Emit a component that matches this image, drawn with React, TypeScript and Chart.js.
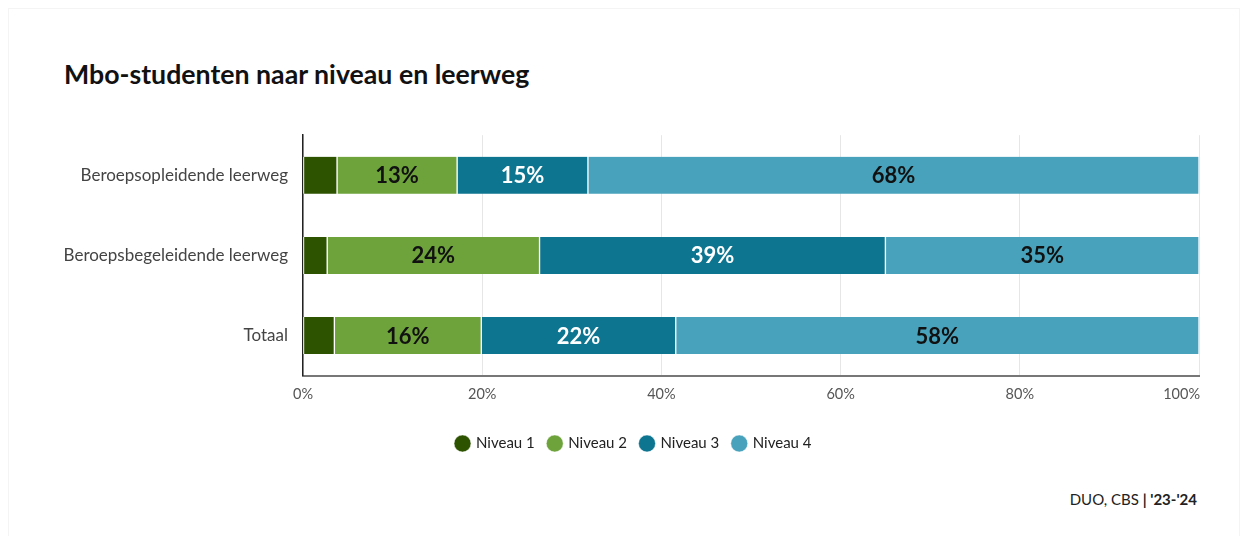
import React, { useEffect, useRef } from "react";
import { Chart, registerables } from "chart.js";

Chart.register(...registerables);

const categories = ["Beroepsopleidende leerweg", "Beroepsbegeleidende leerweg", "Totaal"];
const seriesNames = ["Niveau 1", "Niveau 2", "Niveau 3", "Niveau 4"];
const niveau1 = [3.8, 2.7, 3.5];
const niveau2 = [13.4, 23.7, 16.4];
const niveau3 = [14.6, 38.6, 21.7];
const niveau4 = [68.2, 35.0, 58.4];
const colors = ["#2d5300", "#6ea33c", "#0e7591", "#48a2bc"];
const labelColors = [null, "#111111", "#ffffff", "#111111"];
const xTicks = [0, 20, 40, 60, 80, 100];

const FONT = "Lato, 'Noto Sans', sans-serif";

const barLabelPlugin = {
  id: "barLabels",
  beforeDraw(chart: any) {
    const lg = chart.legend;
    if (lg && !lg._shifted) {
      lg.left += 10;
      lg.right += 10;
      lg._shifted = true;
    }
  },
  afterDatasetsDraw(chart: any) {
    const ctx = chart.ctx;
    ctx.save();
    ctx.font = `bold 22px ${FONT}`;
    ctx.textAlign = "center";
    ctx.textBaseline = "middle";
    chart.data.datasets.forEach((ds: any, di: number) => {
      const col = labelColors[di];
      if (!col) return;
      const meta = chart.getDatasetMeta(di);
      meta.data.forEach((el: any, i: number) => {
        const v = ds.data[i];
        const cx = (el.x + el.base) / 2;
        ctx.fillStyle = col;
        ctx.fillText(Math.round(v) + "%", cx, el.y + 1);
      });
    });
    ctx.restore();
  },
  afterDraw(chart: any) {
    const ctx = chart.ctx;
    const xs = chart.scales.x;
    ctx.save();
    ctx.font = `14.5px ${FONT}`;
    ctx.fillStyle = "#555555";
    ctx.textAlign = "right";
    ctx.textBaseline = "middle";
    const ly = chart.chartArea.bottom + 10 + 9;
    ctx.fillText("100%", xs.right + 1, ly);
    ctx.restore();
  },
};

export default function App() {
  const ref = useRef<HTMLCanvasElement | null>(null);
  useEffect(() => {
    if (!ref.current) return;
    const data = [niveau1, niveau2, niveau3, niveau4];
    const chart = new Chart(ref.current, {
      type: "bar",
      data: {
        labels: categories,
        datasets: seriesNames.map((n, i) => ({
          label: n,
          data: data[i],
          backgroundColor: colors[i],
          borderColor: "#ffffff",
          borderWidth: { left: 1, right: 1, top: 0, bottom: 0 },
          borderSkipped: false,
          barThickness: 37,
        })),
      },
      options: {
        indexAxis: "y",
        animation: false,
        responsive: false,
        maintainAspectRatio: false,
        layout: { padding: { left: 40, right: 42, top: 0, bottom: 10 } },
        scales: {
          x: {
            stacked: true,
            min: 0,
            max: 100,
            afterBuildTicks(scale: any) {
              scale.ticks = xTicks.map((v) => ({ value: v }));
            },
            afterFit(scale: any) {
              scale.height += 9;
            },
            ticks: {
              padding: 10,
              font: { family: FONT, size: 14.5 },
              color: "#555555",
              callback: (v: any) => (v === 100 ? "" : v + "%"),
              maxRotation: 0,
            },
            grid: { color: "#e6e6e6", drawTicks: false, lineWidth: 1 },
            border: { color: "#777777", width: 2 },
          },
          y: {
            stacked: true,
            afterFit(scale: any) {
              scale.width = 254;
            },
            ticks: {
              padding: 15,
              font: { family: FONT, size: 17 },
              color: "#444444",
            },
            grid: { display: false, drawTicks: false },
            border: { color: "#222222", width: 1.5 },
          },
        },
        plugins: {
          legend: {
            position: "bottom",
            labels: {
              usePointStyle: true,
              pointStyle: "circle",
              boxWidth: 12,
              boxHeight: 12,
              padding: 14,
              font: { family: FONT, size: 15 },
              color: "#222222",
            },
          },
          tooltip: { enabled: false },
        },
      },
      plugins: [barLabelPlugin],
    } as any);
    return () => chart.destroy();
  }, []);

  return (
    <div
      style={{
        position: "relative",
        width: 1232,
        height: 540,
        boxSizing: "border-box",
        border: "1px solid #f4f4f4",
        fontFamily: FONT,
        background: "#fff",
      }}
    >
      <div
        style={{
          position: "absolute",
          left: 55,
          top: 49,
          fontSize: 26.7,
          fontWeight: 700,
          color: "#111",
          whiteSpace: "nowrap",
        }}
      >
        Mbo-studenten naar niveau en leerweg
      </div>
      <canvas
        ref={ref}
        width={1232}
        height={361}
        style={{ position: "absolute", left: 0, top: 101, width: 1232, height: 361 }}
      />
      <div
        style={{
          position: "absolute",
          right: 42,
          top: 481,
          fontSize: 15,
          color: "#222",
          whiteSpace: "nowrap",
        }}
      >
        DUO, CBS <b>| '23-'24</b>
      </div>
    </div>
  );
}
